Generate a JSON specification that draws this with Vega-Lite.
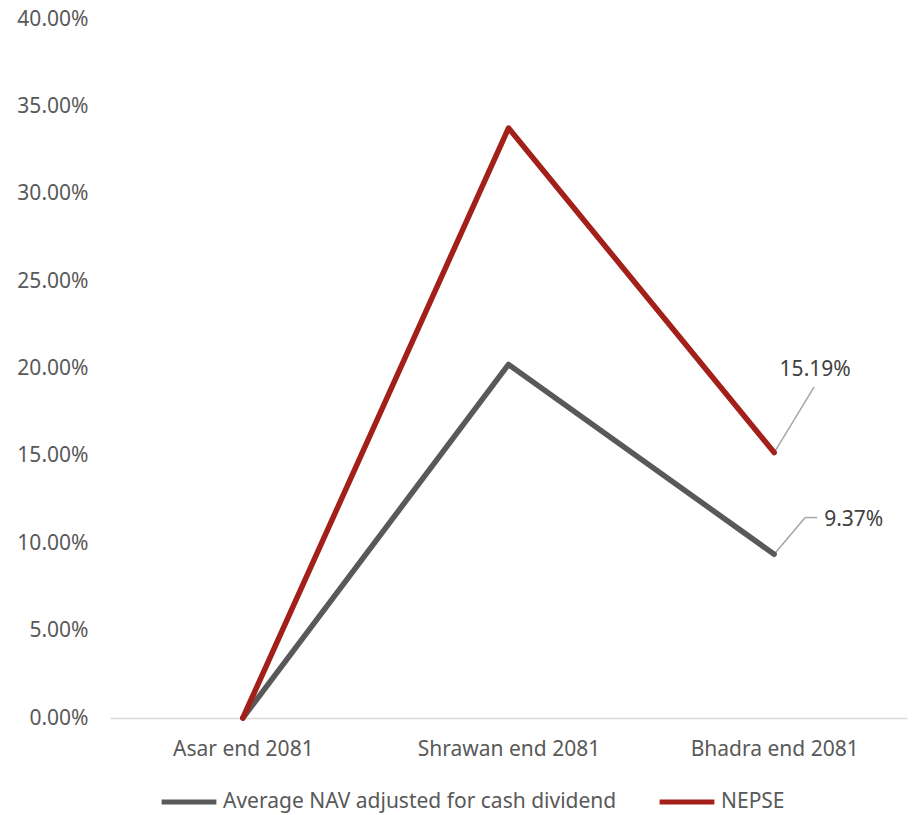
{
  "$schema": "https://vega.github.io/schema/vega-lite/v6.json",
  "width": 797,
  "height": 699,
  "padding": {"left": 16, "top": 8, "right": 10, "bottom": 5},
  "background": "white",
  "config": {
    "view": {"stroke": null},
    "font": "Noto Sans",
    "axis": {"labelFont": "Noto Sans", "labelFontSize": 21, "labelColor": "#595959", "grid": false, "ticks": false, "title": null, "labelLimit": 400},
    "legend": {"labelFont": "Noto Sans", "labelFontSize": 21, "labelColor": "#595959", "labelLimit": 600}
  },
  "datasets": {
    "series": [
      {"period": "Asar end 2081", "series": "Average NAV adjusted for cash dividend", "value": 0},
      {"period": "Shrawan end 2081", "series": "Average NAV adjusted for cash dividend", "value": 0.2023},
      {"period": "Bhadra end 2081", "series": "Average NAV adjusted for cash dividend", "value": 0.0937},
      {"period": "Asar end 2081", "series": "NEPSE", "value": 0},
      {"period": "Shrawan end 2081", "series": "NEPSE", "value": 0.3376},
      {"period": "Bhadra end 2081", "series": "NEPSE", "value": 0.1519}
    ],
    "labels": [
      {"period": "Bhadra end 2081", "series": "NEPSE", "value": 0.1519, "labelY": 0.1895, "textY": 0.199, "text": "15.19%"},
      {"period": "Bhadra end 2081", "series": "Average NAV adjusted for cash dividend", "value": 0.0937, "labelY": 0.1147, "textY": 0.1135, "text": "9.37%"}
    ]
  },
  "encoding": {
    "x": {
      "field": "period", "type": "nominal",
      "scale": {"type": "point", "domain": ["Asar end 2081", "Shrawan end 2081", "Bhadra end 2081"], "padding": 0.5},
      "axis": {"labelAngle": 0, "domainColor": "#D9D9D9", "domainWidth": 1.5, "labelPadding": 20, "labelLimit": 400}
    }
  },
  "layer": [
    {
      "data": {"name": "labels"},
      "transform": [{"filter": "datum.series == 'NEPSE'"}],
      "mark": {"type": "rule", "color": "#A6A6A6", "strokeWidth": 1.5, "x2Offset": 40},
      "encoding": {
        "x2": {"field": "period"},
        "y": {"field": "value", "type": "quantitative"},
        "y2": {"field": "labelY"}
      }
    },
    {
      "data": {"name": "labels"},
      "transform": [{"filter": "datum.series != 'NEPSE'"}],
      "mark": {"type": "rule", "color": "#A6A6A6", "strokeWidth": 1.5, "x2Offset": 31},
      "encoding": {
        "x2": {"field": "period"},
        "y": {"field": "value", "type": "quantitative"},
        "y2": {"field": "labelY"}
      }
    },
    {
      "data": {"name": "labels"},
      "transform": [{"filter": "datum.series != 'NEPSE'"}],
      "mark": {"type": "rule", "color": "#A6A6A6", "strokeWidth": 1.5, "xOffset": 31, "x2Offset": 43},
      "encoding": {
        "x2": {"field": "period"},
        "y": {"field": "labelY", "type": "quantitative"}
      }
    },
    {
      "data": {"name": "series"},
      "mark": {"type": "line", "strokeWidth": 5.5, "strokeCap": "round", "strokeJoin": "round"},
      "encoding": {
        "y": {
          "field": "value", "type": "quantitative",
          "scale": {"domain": [0, 0.4], "nice": false, "zero": true},
          "axis": {"format": ".2%", "values": [0, 0.05, 0.1, 0.15, 0.2, 0.25, 0.3, 0.35, 0.4], "domain": false, "labelPadding": 22}
        },
        "color": {
          "field": "series", "type": "nominal",
          "scale": {"domain": ["Average NAV adjusted for cash dividend", "NEPSE"], "range": ["#595959", "#A31F1A"]},
          "legend": {"orient": "none", "legendX": 49, "legendY": 753, "direction": "horizontal", "title": null, "symbolType": "stroke", "symbolSize": 3000, "symbolStrokeWidth": 5, "labelOffset": 4, "columnPadding": 32}
        }
      }
    },
    {
      "data": {"name": "labels"},
      "transform": [{"filter": "datum.series == 'NEPSE'"}],
      "mark": {"type": "text", "fontSize": 21, "color": "#404040", "font": "Noto Sans", "align": "center", "xOffset": 41},
      "encoding": {
        "y": {"field": "textY", "type": "quantitative"},
        "text": {"field": "text"}
      }
    },
    {
      "data": {"name": "labels"},
      "transform": [{"filter": "datum.series != 'NEPSE'"}],
      "mark": {"type": "text", "fontSize": 21, "color": "#404040", "font": "Noto Sans", "align": "left", "xOffset": 50},
      "encoding": {
        "y": {"field": "textY", "type": "quantitative"},
        "text": {"field": "text"}
      }
    }
  ]
}
